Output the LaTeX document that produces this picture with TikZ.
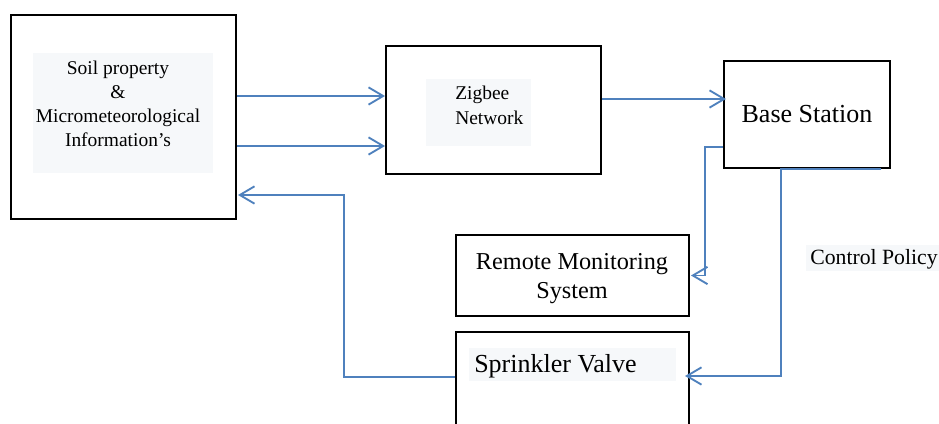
\documentclass[tikz,border=0pt]{standalone}
\usepackage{fontspec}
\setmainfont{Liberation Serif}
\usepackage{xcolor}
\usepackage{tikz}
\usetikzlibrary{calc,arrows.meta,positioning}
\definecolor{linec}{HTML}{4F81BD}
\definecolor{softbg}{HTML}{F6F8FA}
\tikzset{
  ar/.style={-{Straight Barb[length=11pt,width=13pt,line width=1.4pt]},line width=1.4pt,linec},
  box/.style={draw=black,line width=1.5pt,fill=white,align=center,inner sep=0pt},
  txtbg/.style={fill=softbg,inner sep=0pt}
}

\begin{document}
\begin{tikzpicture}[x=0.75pt,y=-0.75pt]
\useasboundingbox (0,0) rectangle (939,424);
\clip (0,0) rectangle (939,424);
% blocks
\node[box,minimum width=225*0.75pt,minimum height=204*0.75pt] (soil) at (123.5,117) {};
\node[txtbg,minimum width=180*0.75pt,minimum height=120*0.75pt] (soilbg) at (123,113) {};
\node[align=center,font=\fontsize{14.6}{18}\selectfont] (soiltxt) at (118,104)
  {Soil property\\ \&\\ Micrometeorological\\ Information’s};
\node[box,minimum width=215*0.75pt,minimum height=128*0.75pt] (zig) at (493.5,110) {};
\node[txtbg,minimum width=105*0.75pt,minimum height=67*0.75pt] (zigbg) at (478.5,112.5) {};
\node[anchor=west,align=left,inner sep=0pt,font=\fontsize{14.6}{18.75}\selectfont] (zigtxt) at (455,105.5)
  {Zigbee\\ Network};
\node[box,minimum width=166*0.75pt,minimum height=107*0.75pt,font=\fontsize{19.5}{23}\selectfont] (base) at (807,114.5)
  {\raisebox{-2pt}{Base Station}};
\node[box,minimum width=233*0.75pt,minimum height=81*0.75pt] (remote) at (572.5,275.5) {};
\node[align=center,font=\fontsize{18.2}{21.75}\selectfont] (remotetxt) at (572,278.5)
  {Remote Monitoring\\ System};
\node[box,minimum width=233*0.75pt,minimum height=110*0.75pt] (valve) at (572.5,387) {};
\node[txtbg,minimum width=207*0.75pt,minimum height=33*0.75pt] (valvebg) at (572.5,364.5) {};
\node[anchor=west,inner sep=0pt,font=\fontsize{19.5}{23}\selectfont] (valvetxt) at (474,366) {Sprinkler Valve};
\node[txtbg,minimum width=133*0.75pt,minimum height=26*0.75pt] (ctrlbg) at (872.5,258) {};
\node[anchor=west,inner sep=0pt,font=\fontsize{16.3}{19}\selectfont] (ctrl) at (810,259) {Control Policy};
% connectors
\draw[ar] ($(soil.east)+(0,-21)$) coordinate (s1) -- (s1 -| zig.west);
\draw[ar] ($(soil.east)+(0,29)$) coordinate (s2) -- (s2 -| zig.west);
\draw[ar] ($(zig.east)+(0,-11)$) coordinate (z1) -- ($(z1 -| base.west)+(3,0)$);
\draw[ar] ($(base.west)+(0,32.5)$) -- ++(-18,0) |- ($(remote.east)+(1,0)$);
\draw[ar] ($(base.south east)+(-10,0)$) -- ($(base.south)+(-26,0)$) |- ($(valve.east)+(-5,-11)$);
\draw[ar] ($(valve.west)+(0,-10)$) -- ++(-111,0) |- ($(soil.east)+(1,78)$);
\end{tikzpicture}
\end{document}
